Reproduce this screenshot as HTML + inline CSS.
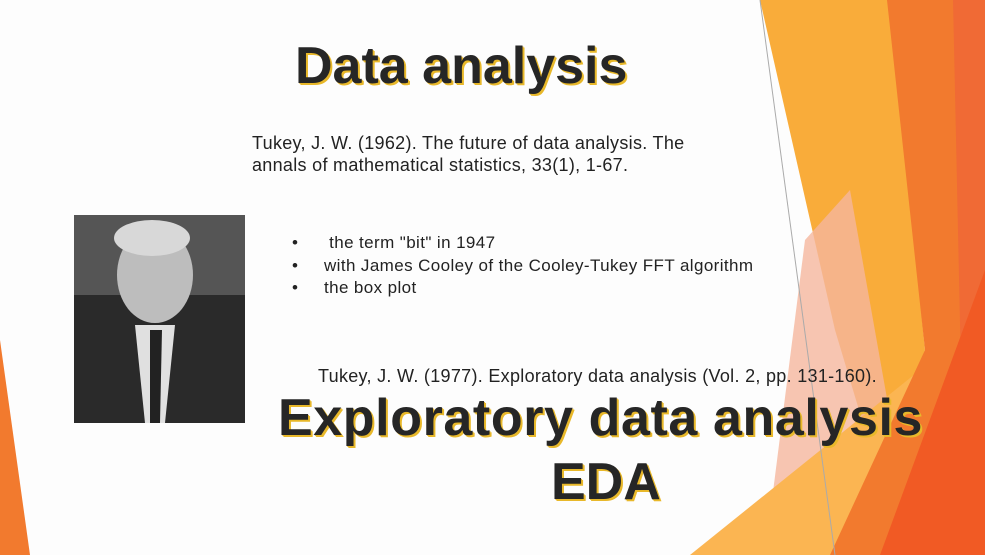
<!DOCTYPE html>
<html><head><meta charset="utf-8"><style>
body{margin:0;width:985px;height:555px;overflow:hidden;background:#fdfdfd;font-family:"Liberation Sans",sans-serif;position:relative}
.t{position:absolute;white-space:nowrap;color:#222}
.big{font-weight:bold;color:#262626;text-shadow:2px 2px 0 #e8b82a,1px 1px 0 #e8b82a}
</style></head><body>
<svg width="985" height="555" style="position:absolute;left:0;top:0">
<polygon points="760,0 890,0 925,350 880,480 835,330" fill="#f9ac3a"/>
<polygon points="805,240 850,190 905,500 790,555 765,555" fill="#f5b79e" opacity="0.8"/>
<polygon points="690,555 920,370 960,555" fill="#fbb552"/>
<polygon points="887,0 985,0 985,555 830,555 925,350" fill="#f27a2e"/>
<polygon points="953,0 985,0 985,555 965,555" fill="#f06a35"/>
<polygon points="985,270 985,555 880,555" fill="#f15a24"/>
<polygon points="0,340 30,555 0,555" fill="#f27a2e"/>
<line x1="760" y1="0" x2="835" y2="555" stroke="#aaa" stroke-width="1"/>
<rect x="74" y="215" width="171" height="208" fill="#2a2a2a"/>
<rect x="74" y="215" width="171" height="80" fill="#555"/>
<ellipse cx="155" cy="275" rx="38" ry="48" fill="#bdbdbd"/>
<ellipse cx="152" cy="238" rx="38" ry="18" fill="#d8d8d8"/>
<polygon points="135,325 175,325 165,423 145,423" fill="#e0e0e0"/>
<polygon points="150,330 162,330 160,423 150,423" fill="#222"/>
</svg>
<div class="t big" style="left:295px;top:36px;font-size:52px">Data analysis</div>
<div class="t" style="left:252px;top:132px;font-size:18px;line-height:22px;letter-spacing:0.3px">Tukey, J. W. (1962). The future of data analysis. The<br>annals of mathematical statistics, 33(1), 1-67.</div>
<div class="t" style="left:292px;top:232px;font-size:17px;line-height:22.5px;letter-spacing:0.4px">•&nbsp;&nbsp;&nbsp;&nbsp;&nbsp; the term "bit" in 1947<br>•&nbsp;&nbsp;&nbsp;&nbsp; with James Cooley of the Cooley-Tukey FFT algorithm<br>•&nbsp;&nbsp;&nbsp;&nbsp; the box plot</div>
<div class="t" style="left:318px;top:366px;font-size:18px;letter-spacing:0.3px">Tukey, J. W. (1977). Exploratory data analysis (Vol. 2, pp. 131-160).</div>
<div class="t big" style="left:278px;top:388px;font-size:52px;letter-spacing:0.6px">Exploratory data analysis</div>
<div class="t big" style="left:551px;top:452px;font-size:52px">EDA</div>
</body></html>
